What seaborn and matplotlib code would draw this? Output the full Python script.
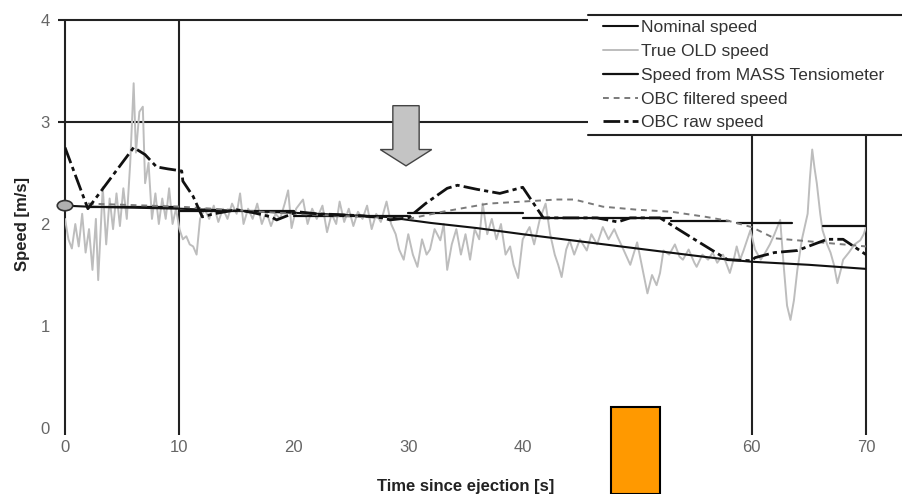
import matplotlib
matplotlib.use("Agg")
import matplotlib.pyplot as plt
import seaborn as sns
import pandas as pd
from matplotlib.patches import FancyArrow, Ellipse, Rectangle
from matplotlib.lines import Line2D

# nominal speed
nominal_t = [0, 2, 10, 20, 28, 30, 32, 36, 40, 45, 50, 55, 58, 60, 65, 70]
nominal_v = [2.18, 2.17, 2.15, 2.11, 2.07, 2.04, 2.01, 1.96, 1.90, 1.83, 1.76, 1.69, 1.65, 1.63, 1.60, 1.56]

# true OLD speed (noisy grey trace)
old_t = [0.0, 0.3, 0.6, 0.9, 1.2, 1.5, 1.8, 2.1, 2.4, 2.7, 2.9, 3.1, 3.3, 3.6, 3.9, 4.2, 4.5, 4.8,
         5.1, 5.4, 5.7, 6.0, 6.2, 6.5, 6.8, 7.0, 7.3, 7.6, 7.9, 8.2, 8.5, 8.8, 9.1, 9.4, 9.7, 10.0,
         10.3, 10.6, 10.9, 11.2, 11.5, 11.8, 12.2, 12.6, 13.0, 13.4, 13.8, 14.2, 14.6, 15.0, 15.3,
         15.6, 16.0, 16.4, 16.8, 17.2, 17.6, 18.0, 18.4, 18.8, 19.2, 19.5, 19.8, 20.2, 20.8, 21.2,
         21.6, 22.0, 22.5, 22.9, 23.3, 23.7, 24.0, 24.4, 24.8, 25.2, 25.6, 26.0, 26.4, 26.8, 27.2,
         27.6, 28.1, 28.5, 28.9, 29.2, 29.6, 30.0, 30.4, 30.8, 31.2, 31.6, 31.9, 32.3, 32.8, 33.1,
         33.4, 33.8, 34.2, 34.6, 35.0, 35.4, 35.8, 36.2, 36.5, 36.9, 37.3, 37.7, 38.1, 38.5, 38.9,
         39.2, 39.6, 40.0, 40.6, 41.0, 41.5, 42.0, 42.4, 42.8, 43.1, 43.4, 43.8, 44.1, 44.5, 45.0,
         45.6, 46.0, 46.5, 47.0, 47.5, 48.0, 48.3, 48.8, 49.4, 50.0, 50.4, 50.9, 51.3, 51.7, 52.0,
         52.3, 52.8, 53.3, 53.7, 54.0, 54.5, 55.0, 55.2, 55.7, 56.2, 56.6, 57.0, 57.5, 58.1, 58.5,
         58.7, 59.0, 59.3, 59.9, 60.3, 60.8, 61.2, 61.6, 62.0, 62.5, 62.8, 63.1, 63.4, 63.7, 64.0,
         64.4, 64.9, 65.1, 65.3, 65.5, 65.7, 66.0, 66.2, 66.6, 66.9, 67.2, 67.5, 67.8, 68.0, 68.5,
         69.0, 69.5, 69.8, 70.0]
old_v = [2.05, 1.85, 1.76, 2.0, 1.78, 2.1, 1.72, 1.95, 1.55, 2.05, 1.45, 1.9, 2.36, 1.8, 2.25, 1.95, 2.3, 1.98,
         2.35, 2.05, 2.6, 3.38, 2.7, 3.1, 3.15, 2.4, 2.6, 2.05, 2.3, 2.0, 2.25, 2.05, 2.35, 2.0, 2.15, 1.95,
         1.85, 1.88, 1.8, 1.78, 1.7, 2.05, 2.15, 2.05, 2.18, 2.02, 2.15, 2.05, 2.2, 2.1, 2.3,
         2.0, 2.15, 2.05, 2.2, 2.0, 2.12, 1.98, 2.1, 2.05, 2.2, 2.33, 1.96, 2.15, 2.24, 2.0,
         2.15, 2.05, 2.18, 1.92, 2.1, 2.0, 2.22, 2.02, 2.15, 1.98, 2.12, 2.05, 2.18, 1.95, 2.1,
         2.02, 2.22, 2.0, 1.9, 1.75, 1.65, 1.9, 1.7, 1.58, 1.85, 1.7, 1.75, 1.95, 1.84, 2.0,
         1.55, 1.8, 1.95, 1.7, 1.9, 1.65, 1.95, 1.85, 2.2, 1.9, 2.05, 1.85, 2.0, 1.7, 1.78,
         1.6, 1.47, 1.85, 1.97, 1.8, 2.05, 2.2, 1.9, 1.7, 1.6, 1.48, 1.75, 1.84, 1.7, 1.85,
         1.74, 1.9, 1.8, 1.97, 1.85, 1.95, 1.87, 1.75, 1.6, 1.82, 1.6, 1.32, 1.5, 1.4, 1.52,
         1.74, 1.7, 1.8, 1.68, 1.65, 1.75, 1.62, 1.58, 1.7, 1.65, 1.72, 1.62, 1.7, 1.52, 1.68,
         1.78, 1.65, 1.74, 1.94, 1.75, 1.65, 1.72, 1.8, 1.9, 2.04, 1.6, 1.2, 1.06, 1.25, 1.55,
         1.85, 2.1, 2.45, 2.73, 2.55, 2.4, 2.1, 1.94, 1.8, 1.72, 1.6, 1.42, 1.55, 1.65, 1.72,
         1.8, 1.84, 1.9, 1.97]

# speed from MASS tensiometer (stepwise segments)
mass_start = [2, 10, 20, 30, 40, 53, 58.7, 66.2]
mass_end = [10, 20, 30, 40, 53, 58, 63.5, 70]
mass_v = [2.17, 2.13, 2.08, 2.11, 2.06, 2.03, 2.01, 1.98]

# OBC filtered speed
filt_t = [2, 10, 20, 28, 30, 33, 37, 40, 43, 44.5, 47, 50, 53, 56, 58, 60, 62, 66, 70]
filt_v = [2.2, 2.17, 2.1, 2.06, 2.05, 2.12, 2.2, 2.22, 2.24, 2.24, 2.17, 2.14, 2.12, 2.07, 2.03, 1.97, 1.86, 1.82, 1.78]

# OBC raw speed
raw_t = [0, 2, 4, 6, 7, 8, 9, 10.2, 10.3, 11.2, 12, 13, 15, 16.5, 18, 18.5, 20.3, 22, 24.3, 26, 27.8,
         28.4, 30, 31.5, 33.4, 34.3, 36, 38, 40, 41.8, 44, 46.5, 48.3, 49.4, 52, 55, 57.9, 60, 60.3,
         62, 64, 66.6, 68, 70]
raw_v = [2.75, 2.15, 2.45, 2.75, 2.68, 2.56, 2.54, 2.52, 2.42, 2.27, 2.07, 2.1, 2.14, 2.11, 2.07, 2.04,
         2.12, 2.1, 2.09, 2.08, 2.06, 2.04, 2.06, 2.2, 2.35, 2.38, 2.34, 2.30, 2.36, 2.06, 2.06, 2.06,
         2.02, 2.06, 2.06, 1.85, 1.65, 1.64, 1.67, 1.72, 1.74, 1.85, 1.85, 1.70]

x_ticks = [0, 10, 20, 30, 40, 50, 60, 70]
y_ticks = [0, 1, 2, 3, 4]
grid_x = [0, 10, 60, 70]
grid_y = [3, 4]

start_t, start_v = 0, 2.18
arrow_t, arrow_top, arrow_tip = 29.8, 3.16, 2.57

sns.set_style("white")
plt.rcParams["font.family"] = ["Liberation Sans", "DejaVu Sans"]

fig = plt.figure(figsize=(9.02, 4.94), dpi=100)
ax = fig.add_axes([65 / 902, 1 - 428 / 494, 801 / 902, 408 / 494])
ax.set_xlim(0, 70)
ax.set_ylim(0, 4)
for s in ax.spines.values():
    s.set_visible(False)

ax.vlines(grid_x, -0.07, 4, colors="#222222", lw=1.5, clip_on=False, zorder=1)
ax.hlines(grid_y, -0.6, 70, colors="#222222", lw=1.5, clip_on=False, zorder=1)

sns.lineplot(x=old_t, y=old_v, color="#bdbdbd", lw=1.4, estimator=None, sort=False,
             label="True OLD speed", ax=ax, zorder=2)
sns.lineplot(x=nominal_t, y=nominal_v, color="#111111", lw=1.5, estimator=None, sort=False,
             label="Nominal speed", ax=ax, zorder=3)

mass_df = pd.DataFrame({
    "t": mass_start + mass_end,
    "v": mass_v + mass_v,
    "seg": list(range(len(mass_v))) * 2,
})
sns.lineplot(data=mass_df, x="t", y="v", units="seg", estimator=None, color="#111111", lw=1.6,
             label="Speed from MASS Tensiometer", ax=ax, zorder=3)
sns.lineplot(x=filt_t, y=filt_v, color="#7a7a7a", lw=1.4, linestyle=(0, (3, 2.5)), estimator=None,
             sort=False, label="OBC filtered speed", ax=ax, zorder=3)
sns.lineplot(x=raw_t, y=raw_v, color="#111111", lw=2.0, linestyle=(0, (6, 1.5, 1.5, 1.5)), estimator=None,
             sort=False, label="OBC raw speed", ax=ax, zorder=4)

ax.add_patch(Ellipse((start_t, start_v), 1.35, 0.1, facecolor="#b0b0b0", edgecolor="#333333",
                     lw=1.2, clip_on=False, zorder=6))
ax.add_patch(FancyArrow(arrow_t, arrow_top, 0, arrow_tip - arrow_top, width=2.3, head_width=4.5,
                        head_length=0.16, length_includes_head=True, facecolor="#c4c4c4",
                        edgecolor="#444444", lw=1.0, zorder=6))

ax.set_xticks(x_ticks)
ax.set_yticks(y_ticks)
ax.tick_params(length=0, labelsize=12, labelcolor="#666666")
ax.tick_params(axis="x", pad=9)
ax.tick_params(axis="y", pad=11)
ax.set_xlabel("Time since ejection [s]", fontsize=12, fontweight="bold", color="#222222")
ax.set_ylabel("Speed [m/s]", fontsize=12, fontweight="bold", color="#222222")
ax.xaxis.set_label_coords(0.5, -0.125)
ax.yaxis.set_label_coords(-0.044, 0.5)

handles, labels = ax.get_legend_handles_labels()
by_label = dict(zip(labels, handles))
if ax.get_legend():
    ax.get_legend().remove()
order = ["Nominal speed", "True OLD speed", "Speed from MASS Tensiometer", "OBC filtered speed", "OBC raw speed"]

fig.add_artist(Rectangle((588 / 902, 1 - 135 / 494), 314 / 902, 120 / 494, transform=fig.transFigure,
                         facecolor="white", edgecolor="none", zorder=2))
for yy in [15, 135]:
    fig.add_artist(Line2D([588 / 902, 1], [1 - yy / 494] * 2, color="#222222", lw=1.5,
                          transform=fig.transFigure, zorder=3))
leg = fig.legend([by_label[k] for k in order], order, loc="upper left",
                 bbox_to_anchor=(603 / 902, 1 - 20 / 494), frameon=False, fontsize=12.5,
                 handlelength=2.0, handletextpad=0.2, labelspacing=0.5, borderpad=0, borderaxespad=0)
for t in leg.get_texts():
    t.set_color("#333333")
leg.set_zorder(5)

fig.add_artist(Rectangle((611 / 902, 0), 49 / 902, 87 / 494, transform=fig.transFigure,
                         facecolor="#ff9900", edgecolor="black", lw=1.5, zorder=6))

fig.savefig("out.png", dpi=100)
